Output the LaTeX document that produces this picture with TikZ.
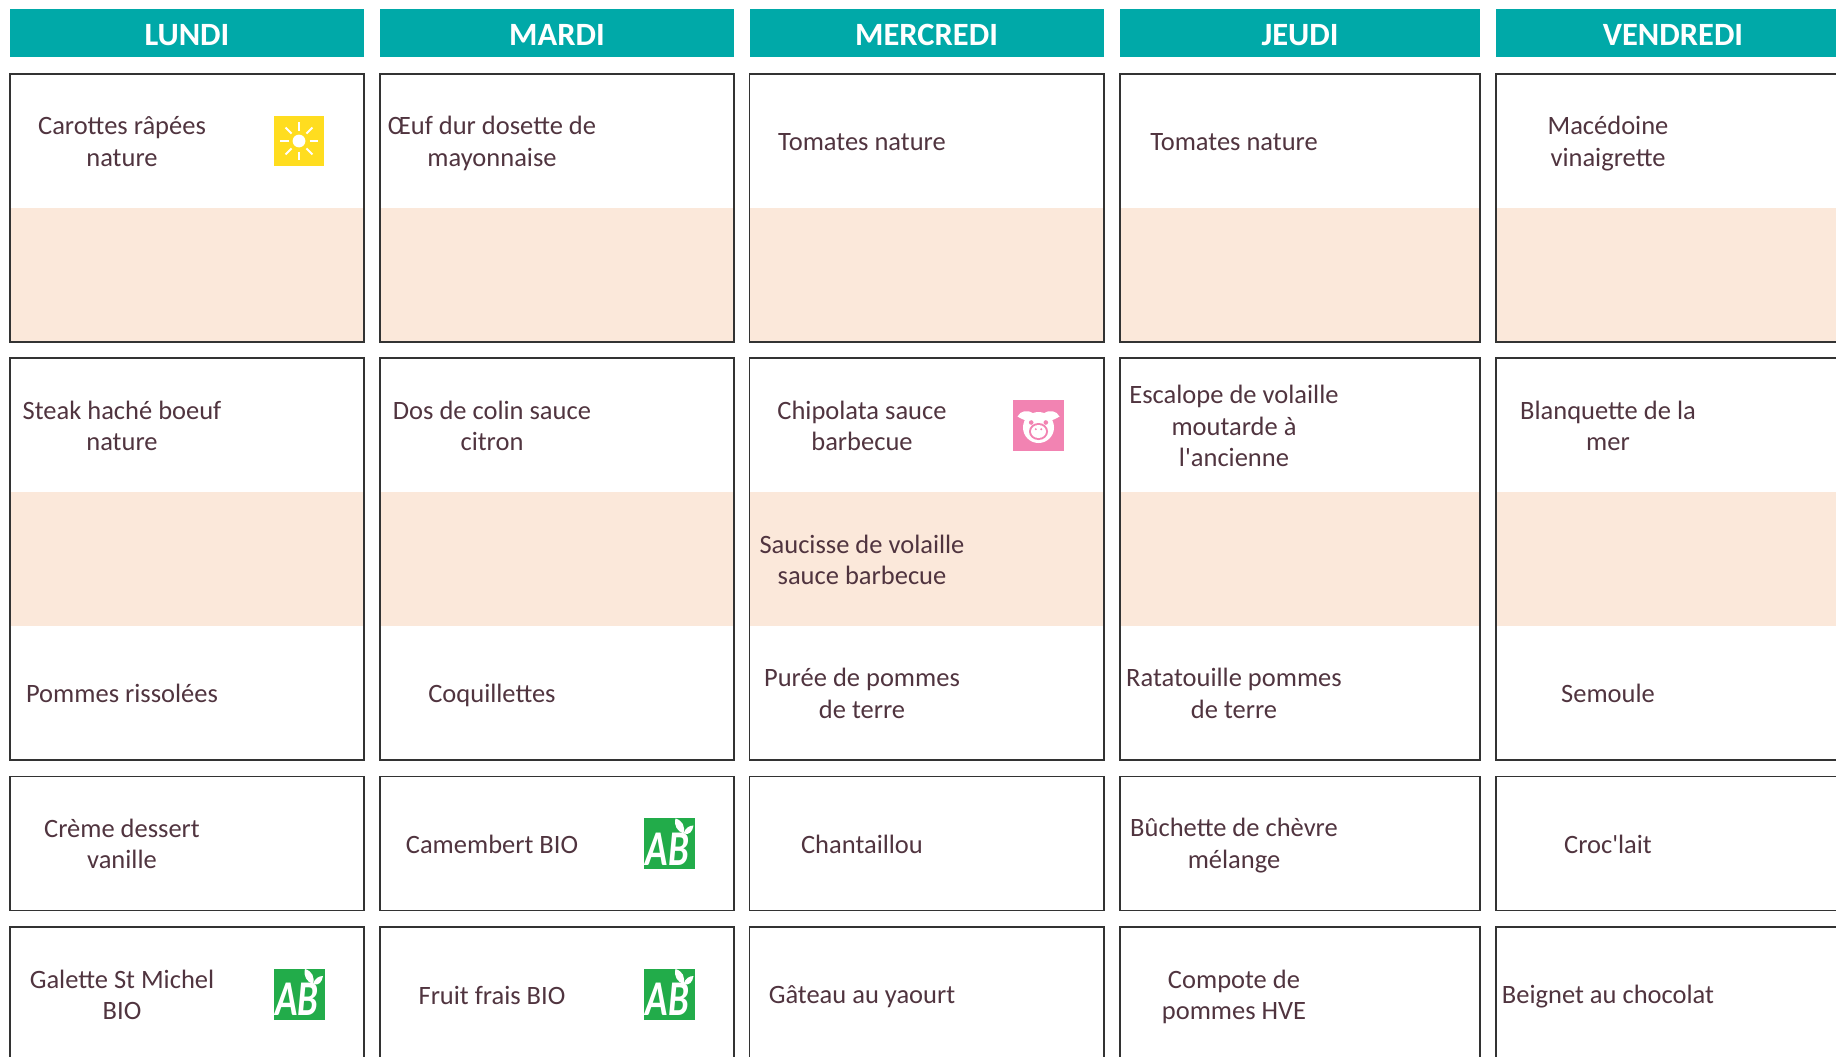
\documentclass[tikz,border=0pt]{standalone}
\usepackage{fontspec}
\usepackage{graphicx}
\setmainfont{Carlito}
\newfontfamily\quotefont{Carlito}
\definecolor{teal1}{HTML}{00A9A8}
\definecolor{peach}{HTML}{FBE8DA}
\definecolor{ink}{HTML}{50343F}
\definecolor{sunbg}{HTML}{FFDD1F}
\definecolor{pigbg}{HTML}{F283B2}
\definecolor{abbg}{HTML}{22AC4A}
\tikzset{
  head/.style={text=white,inner sep=0pt,font=\fontsize{32.5}{38}\selectfont\bfseries},
  dish/.style={text=ink,align=center,inner sep=0pt,font=\fontsize{26.5}{31.4}\selectfont},
  cellline/.style={draw=black!80,line width=1.3pt},
  band/.style={fill=peach},
  sunicon/.pic={
    \fill[sunbg] (-25,-25) rectangle (25,25);
    \fill[white] (0,0) circle (6.4);
    \foreach \a in {0,45,...,315}
      \draw[white,line width=2pt] (\a:10.5) -- (\a:19);
  },
  pigicon/.pic={
    \fill[pigbg] (-25.5,-25.5) rectangle (25.5,25.5);
    \fill[white] (-21,-9) .. controls (-18,-15) and (-11,-16) .. (-5,-12) -- (-9,-1) .. controls (-12,-6) and (-17,-6) .. (-21,-9);
    \fill[white] (21,-9) .. controls (18,-15) and (11,-16) .. (5,-12) -- (9,-1) .. controls (12,-6) and (17,-6) .. (21,-9);
    \fill[white] (0,2) circle (15.5);
    \fill[pigbg] (0,6) ellipse (9.5 and 8.5);
    \fill[white] (0,6) ellipse (7.5 and 6.5);
    \fill[pigbg] (-2.7,3.7) circle (1.1) (2.7,3.7) circle (1.1);
    \fill[pigbg] (-7.3,-3) circle (2.3) (7.3,-3) circle (2.3);
  },
  abicon/.pic={
    \fill[abbg] (-25.5,-25.5) rectangle (25.5,25.5);
    \node[text=white,inner sep=0pt,font=\fontsize{50}{50}\selectfont\bfseries\itshape] at (-2,5.5) {\scalebox{.74}[1]{AB}};
    \fill[white] (6,-25) .. controls (13,-23) and (16,-17) .. (14,-10) .. controls (8,-12) and (4,-18) .. (6,-25);
    \fill[white] (14,-10) .. controls (16,-16) and (20,-18) .. (24,-18) .. controls (23,-12) and (20,-8) .. (14,-10);
  }
}
\begin{document}
\begin{tikzpicture}[x=1pt,y=-1pt]
\useasboundingbox (0,0) rectangle (1836,1057);
\clip (0,0) rectangle (1836,1057);
\foreach \l/\r in {10/364,380/734,749.5/1104,1120/1480,1496/1860}{
  \fill[teal1] (\l,9) rectangle (\r,57);
  \fill[band] (\l,208) rectangle (\r,342);
  \fill[band] (\l,492) rectangle (\r,626);
  \draw[cellline] (\l,74) rectangle (\r,342);
  \draw[cellline] (\l,358) rectangle (\r,760);
  \draw[cellline] (\l,776.5) rectangle (\r,910.5);
  \draw[cellline] (\l,927) rectangle (\r,1080);
}
% headers
\node[head] (hA) at (187,35) {LUNDI};
\node[head] (hB) at (557,35) {MARDI};
\node[head] (hC) at (926.5,35) {MERCREDI};
\node[head] (hD) at (1300,35) {JEUDI};
\node[head] (hE) at (1673,35) {VENDREDI};
% starters
\node[dish] (a1) at (122,141.5) {Carottes râpées\\nature};
\node[dish] (b1) at (492,143.5) {Œuf dur dosette de\\mayonnaise};
\node[dish] (c1) at (862,142.5) {Tomates nature};
\node[dish] (d1) at (1234,142.5) {Tomates nature};
\node[dish] (e1) at (1608,143.5) {Macédoine\\vinaigrette};
% mains
\node[dish] (a2) at (122,426) {Steak haché boeuf\\nature};
\node[dish] (b2) at (492,426) {Dos de colin sauce\\citron};
\node[dish] (c2) at (862,426) {Chipolata sauce\\barbecue};
\node[dish] (d2) at (1234,426) {Escalope de volaille\\moutarde à\\l{\quotefont'}ancienne};
\node[dish] (e2) at (1608,426) {Blanquette de la\\mer};
\node[dish] (c3) at (862,560) {Saucisse de volaille\\sauce barbecue};
% sides
\node[dish] (a4) at (122,693.5) {Pommes rissolées};
\node[dish] (b4) at (492,695.5) {Coquillettes};
\node[dish] (c4) at (862,693.5) {Purée de pommes\\de terre};
\node[dish] (d4) at (1234,693.5) {Ratatouille pommes\\de terre};
\node[dish] (e4) at (1608,693.5) {Semoule};
% dairy
\node[dish] (a5) at (122,844) {Crème dessert\\vanille};
\node[dish] (b5) at (492,844) {Camembert BIO};
\node[dish] (c5) at (862,844) {Chantaillou};
\node[dish] (d5) at (1234,845.5) {Bûchette de chèvre\\mélange};
\node[dish] (e5) at (1608,844) {Croc{\quotefont'}lait};
% desserts
\node[dish] (a6) at (122,995) {Galette St Michel\\BIO};
\node[dish] (b6) at (492,995) {Fruit frais BIO};
\node[dish] (c6) at (862,997) {Gâteau au yaourt};
\node[dish] (d6) at (1234,997) {Compote de\\pommes HVE};
\node[dish] (e6) at (1608,997) {Beignet au chocolat};
% icons
\pic at (299,141) {sunicon};
\pic at (1038.5,425.5) {pigicon};
\pic at (669.5,843.5) {abicon};
\pic at (299,994) {abicon};
\pic at (669.5,994) {abicon};
\end{tikzpicture}
\end{document}
